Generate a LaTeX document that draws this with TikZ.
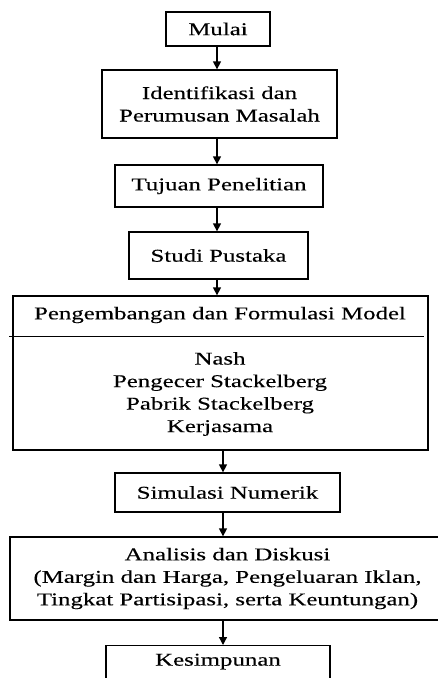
\documentclass[tikz,border=0pt]{standalone}
\usepackage{fontspec}
\setmainfont[FakeStretch=1.38,FakeBold=0.25]{Liberation Serif}
\usetikzlibrary{arrows.meta,calc}
\begin{document}
\begin{tikzpicture}[x=1pt,y=-1pt,
  box/.style={draw,line width=1.3pt,align=center,inner sep=0pt,
    font=\fontsize{18}{22.5}\selectfont},
  txt/.style={align=center,inner sep=0pt,font=\fontsize{18}{22.5}\selectfont},
  arr/.style={line width=1.3pt,-{Triangle[length=8pt,width=8pt]}}]
\clip (0,0) rectangle (438,678);
\fill[white] (0,0) rectangle (438,678);
\coordinate (axa) at (217,0);
\coordinate (axb) at (223,0);
\node[box,minimum width=104pt,minimum height=34pt] (mulai) at (218,29) {Mulai};
\node[box,minimum width=235pt,minimum height=68pt] (ident) at (219.5,104) {Identifikasi dan\\Perumusan Masalah};
\node[box,minimum width=208pt,minimum height=42pt] (tujuan) at (219,186) {Tujuan Penelitian};
\node[box,minimum width=179pt,minimum height=47pt] (studi) at (218.5,255.5) {Studi Pustaka};
\node[box,minimum width=415pt,minimum height=154pt] (model) at (220.5,373) {};
\node[txt] (modelhead) at (220,315) {Pengembangan dan Formulasi Model};
\node[txt] (modellist) at (220,394) {Nash\\Pengecer Stackelberg\\Pabrik Stackelberg\\Kerjasama};
\draw[line width=1.3pt] ($(model.north west)+(-3,41)$) -- ($(model.north east)+(-5,41)$);
\node[box,minimum width=225pt,minimum height=39pt] (simulasi) at (227.5,492.5) {Simulasi Numerik};
\node[box,minimum width=435pt,minimum height=83pt] (analisis) at (227.5,578.5) {Analisis dan Diskusi\\(Margin dan Harga, Pengeluaran Iklan,\\Tingkat Partisipasi, serta Keuntungan)};
\node[box,minimum width=224pt,anchor=north,inner ysep=7pt,text height=13pt,text depth=25pt] (kes) at (218,645) {Kesimpunan};
\draw[arr] (mulai.south -| axa) -- (ident.north -| axa);
\draw[arr] (ident.south -| axa) -- (tujuan.north -| axa);
\draw[arr] (tujuan.south -| axa) -- (studi.north -| axa);
\draw[arr] (studi.south -| axa) -- (model.north -| axa);
\draw[arr] (model.south -| axb) -- (simulasi.north -| axb);
\draw[arr] (simulasi.south -| axb) -- (analisis.north -| axb);
\draw[arr] (analisis.south -| axb) -- (kes.north -| axb);
\end{tikzpicture}
\end{document}
